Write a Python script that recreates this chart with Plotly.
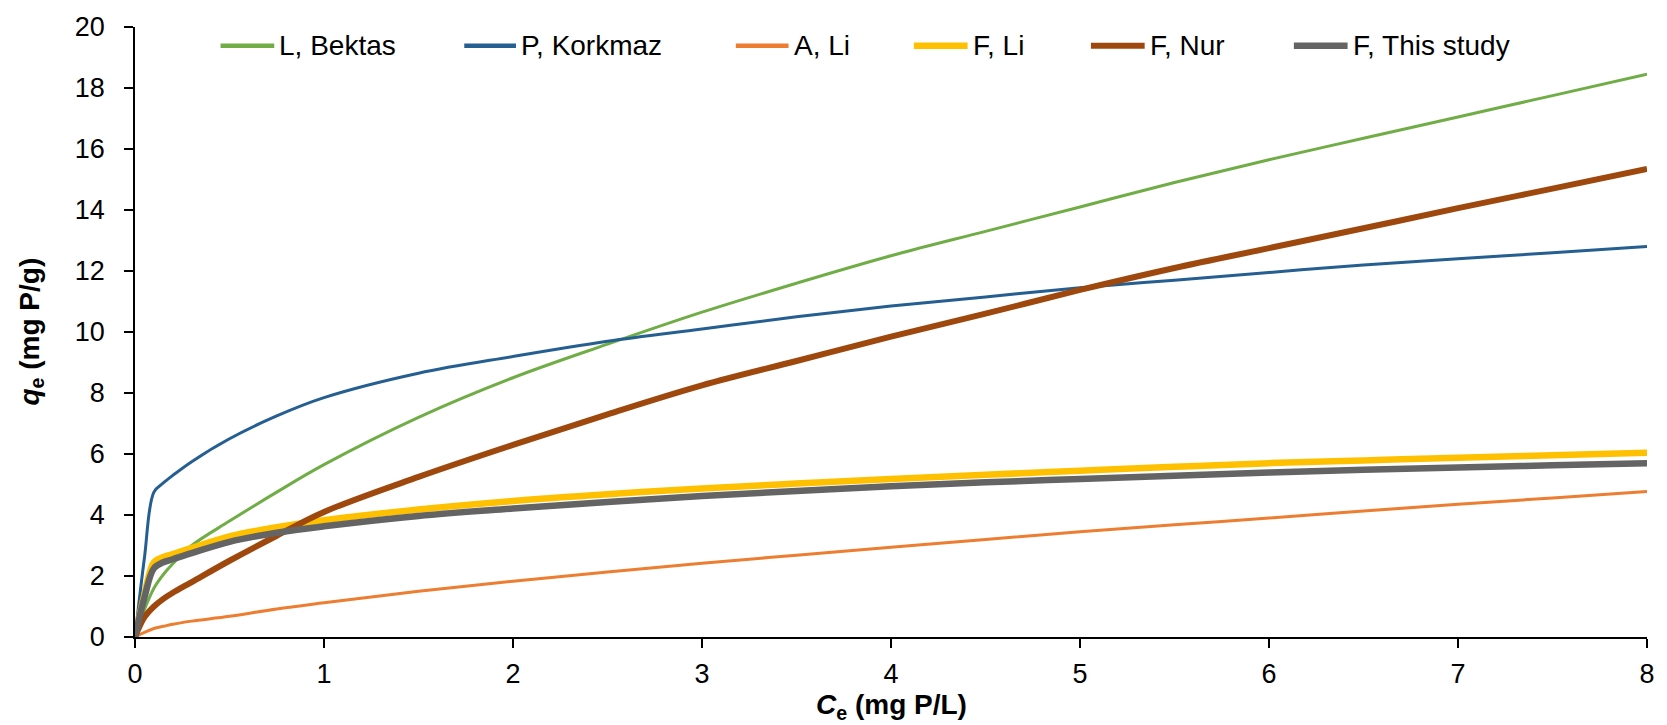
import plotly.graph_objects as go

# Equilibrium concentration C_e (mg P/L)
ce = [0, 0.05, 0.1, 0.15, 0.2, 0.3, 0.5, 0.75, 1, 1.5, 2, 2.5, 3, 3.5, 4,
      4.5, 5, 5.5, 6, 6.5, 7, 7.5, 8]

# Adsorbed amount q_e (mg P/g) for each isotherm
q_bektas = [0, 0.9, 1.6, 2.05, 2.4, 3.0, 3.8, 4.75, 5.65, 7.2, 8.5, 9.6,
            10.65, 11.6, 12.5, 13.3, 14.1, 14.9, 15.65, 16.35, 17.05, 17.75, 18.45]
q_korkmaz = [0, 2.6, 4.75, 5.05, 5.3, 5.75, 6.5, 7.25, 7.85, 8.65, 9.2, 9.7,
             10.1, 10.5, 10.85, 11.15, 11.45, 11.7, 11.95, 12.2, 12.4, 12.6, 12.8]
q_a_li = [0, 0.15, 0.28, 0.35, 0.42, 0.52, 0.68, 0.92, 1.12, 1.5, 1.83, 2.13,
          2.42, 2.68, 2.94, 3.2, 3.45, 3.68, 3.9, 4.13, 4.35, 4.56, 4.77]
q_f_li = [0, 1.4, 2.45, 2.62, 2.72, 2.92, 3.3, 3.6, 3.83, 4.18, 4.46, 4.68,
          4.87, 5.03, 5.18, 5.32, 5.45, 5.58, 5.7, 5.79, 5.88, 5.96, 6.04]
q_f_nur = [0, 0.65, 1.0, 1.25, 1.45, 1.8, 2.5, 3.32, 4.1, 5.25, 6.3, 7.3,
           8.25, 9.05, 9.85, 10.6, 11.38, 12.1, 12.75, 13.4, 14.06, 14.7, 15.35]
q_this = [0, 1.3, 2.25, 2.45, 2.55, 2.75, 3.12, 3.42, 3.63, 3.97, 4.21, 4.43,
          4.62, 4.79, 4.94, 5.07, 5.18, 5.29, 5.39, 5.48, 5.56, 5.63, 5.7]

series_names = ["L, Bektas", "P, Korkmaz", "A, Li", "F, Li", "F, Nur", "F, This study"]
series_values = [q_bektas, q_korkmaz, q_a_li, q_f_li, q_f_nur, q_this]
series_colors = ["#70AD47", "#255E91", "#ED7D31", "#FFC000", "#9E480E", "#646464"]
series_widths = [3, 3, 3, 6.5, 6, 6.5]

# legend line start/end (px) for each entry
legend_x = [(221, 275), (466, 518), (739, 792), (918, 972), (1096, 1150), (1300, 1354)]

W, H = 1667, 725
L, R, T, B = 135, 12, 21, 88
PW, PH = W - L - R, H - T - B
FONT = "Liberation Sans, Arial, sans-serif"

fig = go.Figure()
for name, vals, col, lw in zip(series_names, series_values, series_colors, series_widths):
    fig.add_trace(go.Scatter(
        x=ce, y=vals, name=name, mode="lines",
        line=dict(color=col, width=lw, shape="spline", smoothing=1.0),
        showlegend=False, hoverinfo="x+y+name"))

def px_to_paper_x(px):
    return (px - L) / PW

def px_to_paper_y(py):
    return (H - B - py) / PH

shapes = []
annotations = []
ly = px_to_paper_y(40)
for name, col, lw, (x0, x1) in zip(series_names, series_colors, series_widths, legend_x):
    shapes.append(dict(type="line", xref="paper", yref="paper",
                       x0=px_to_paper_x(x0), x1=px_to_paper_x(x1), y0=ly, y1=ly,
                       line=dict(color=col, width=max(lw, 4.5))))
    annotations.append(dict(text=name, xref="paper", yref="paper",
                            x=px_to_paper_x(x1 + 3), y=ly, xanchor="left", yanchor="middle",
                            showarrow=False, font=dict(family=FONT, size=28, color="#000")))

annotations.append(dict(text="<b><i>C</i><sub>e</sub> (mg P/L)</b>", xref="paper", yref="paper",
                        x=0.5, y=px_to_paper_y(707), xanchor="center", yanchor="middle",
                        showarrow=False, font=dict(family=FONT, size=28, color="#000")))
annotations.append(dict(text="<b><i>q</i><sub>e</sub> (mg P/g)</b>", xref="paper", yref="paper",
                        x=px_to_paper_x(30), y=0.5, xanchor="center", yanchor="middle",
                        textangle=-90, showarrow=False,
                        font=dict(family=FONT, size=28, color="#000")))

fig.update_layout(
    width=W, height=H,
    margin=dict(l=L, r=R, t=T, b=B),
    paper_bgcolor="white", plot_bgcolor="white",
    shapes=shapes, annotations=annotations,
    font=dict(family=FONT, size=27, color="#000"),
)
fig.update_xaxes(range=[0, 8], tickvals=list(range(0, 9)), showgrid=False, zeroline=False,
                 showline=True, linecolor="#000", linewidth=1.5,
                 ticks="outside", ticklen=9, tickwidth=1.5, tickcolor="#000",
                 ticklabelstandoff=3, tickfont=dict(size=27))
fig.update_yaxes(range=[0, 20], tickvals=list(range(0, 21, 2)), showgrid=False, zeroline=False,
                 showline=True, linecolor="#000", linewidth=1.5,
                 ticks="outside", ticklen=9, tickwidth=1.5, tickcolor="#000",
                 ticklabelstandoff=14, tickfont=dict(size=27))

fig.write_html("out.html")
